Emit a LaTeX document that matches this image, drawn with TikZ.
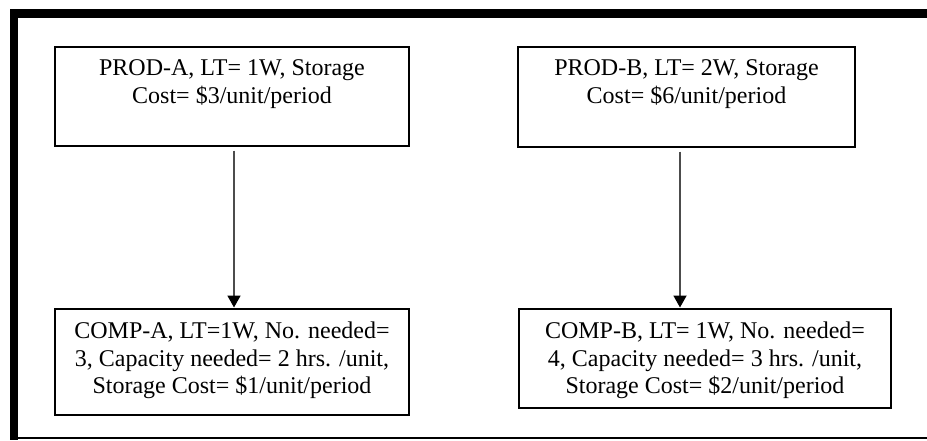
\documentclass[tikz,border=0pt]{standalone}
\usepackage{fontspec}
\setmainfont{Liberation Serif}
\usetikzlibrary{arrows.meta}
\begin{document}
\begin{tikzpicture}[x=1pt,y=1pt,
  box/.style={draw=black,line width=1.5pt,inner sep=0pt},
  txt/.style={align=center,inner sep=0pt,anchor=north,
    font=\fontsize{24}{27.5}\selectfont},
  link/.style={draw=black!70,line width=1.8pt,
    -{Triangle[length=12pt,width=13pt,color=black]}}]
\useasboundingbox (0,0) rectangle (927,440);

% outer frame: heavy top and left bars, thin bottom rule
\fill[black] (10,431) rectangle (927,422);
\fill[black] (10,431) rectangle (18,0);
\fill[black] (10,1) rectangle (927,3);

% product boxes
\node[box,minimum width=354pt,minimum height=99pt] (pa) at (232,343.5) {};
\node[txt] (pat) at ([yshift=-13.5pt]pa.north)
  {PROD-A, LT= 1W, Storage\\Cost= \$3/unit/period};

\node[box,minimum width=337pt,minimum height=100pt] (pb) at (686.5,343) {};
\node[txt] (pbt) at ([yshift=-13.5pt]pb.north)
  {PROD-B, LT= 2W, Storage\\Cost= \$6/unit/period};

% component boxes
\node[box,minimum width=354pt,minimum height=106pt] (ca) at (232,78) {};
\node[txt] (cat) at ([yshift=-13.5pt]ca.north)
  {COMP-A, LT=1W, No. needed=\\3, Capacity needed= 2 hrs. /unit,\\Storage Cost= \$1/unit/period};

\node[box,minimum width=372pt,minimum height=99pt] (cb) at (705,81.5) {};
\node[txt] (cbt) at ([yshift=-13.5pt]cb.north)
  {COMP-B, LT= 1W, No. needed=\\4, Capacity needed= 3 hrs. /unit,\\Storage Cost= \$2/unit/period};

% product -> component links
\draw[link] ([xshift=2pt,yshift=-4pt]pa.south) -- ([xshift=2pt,yshift=0.75pt]ca.north);
\draw[link] ([xshift=-6.5pt,yshift=-4pt]pb.south) -- ([xshift=-25pt,yshift=0.75pt]cb.north);
\end{tikzpicture}
\end{document}
